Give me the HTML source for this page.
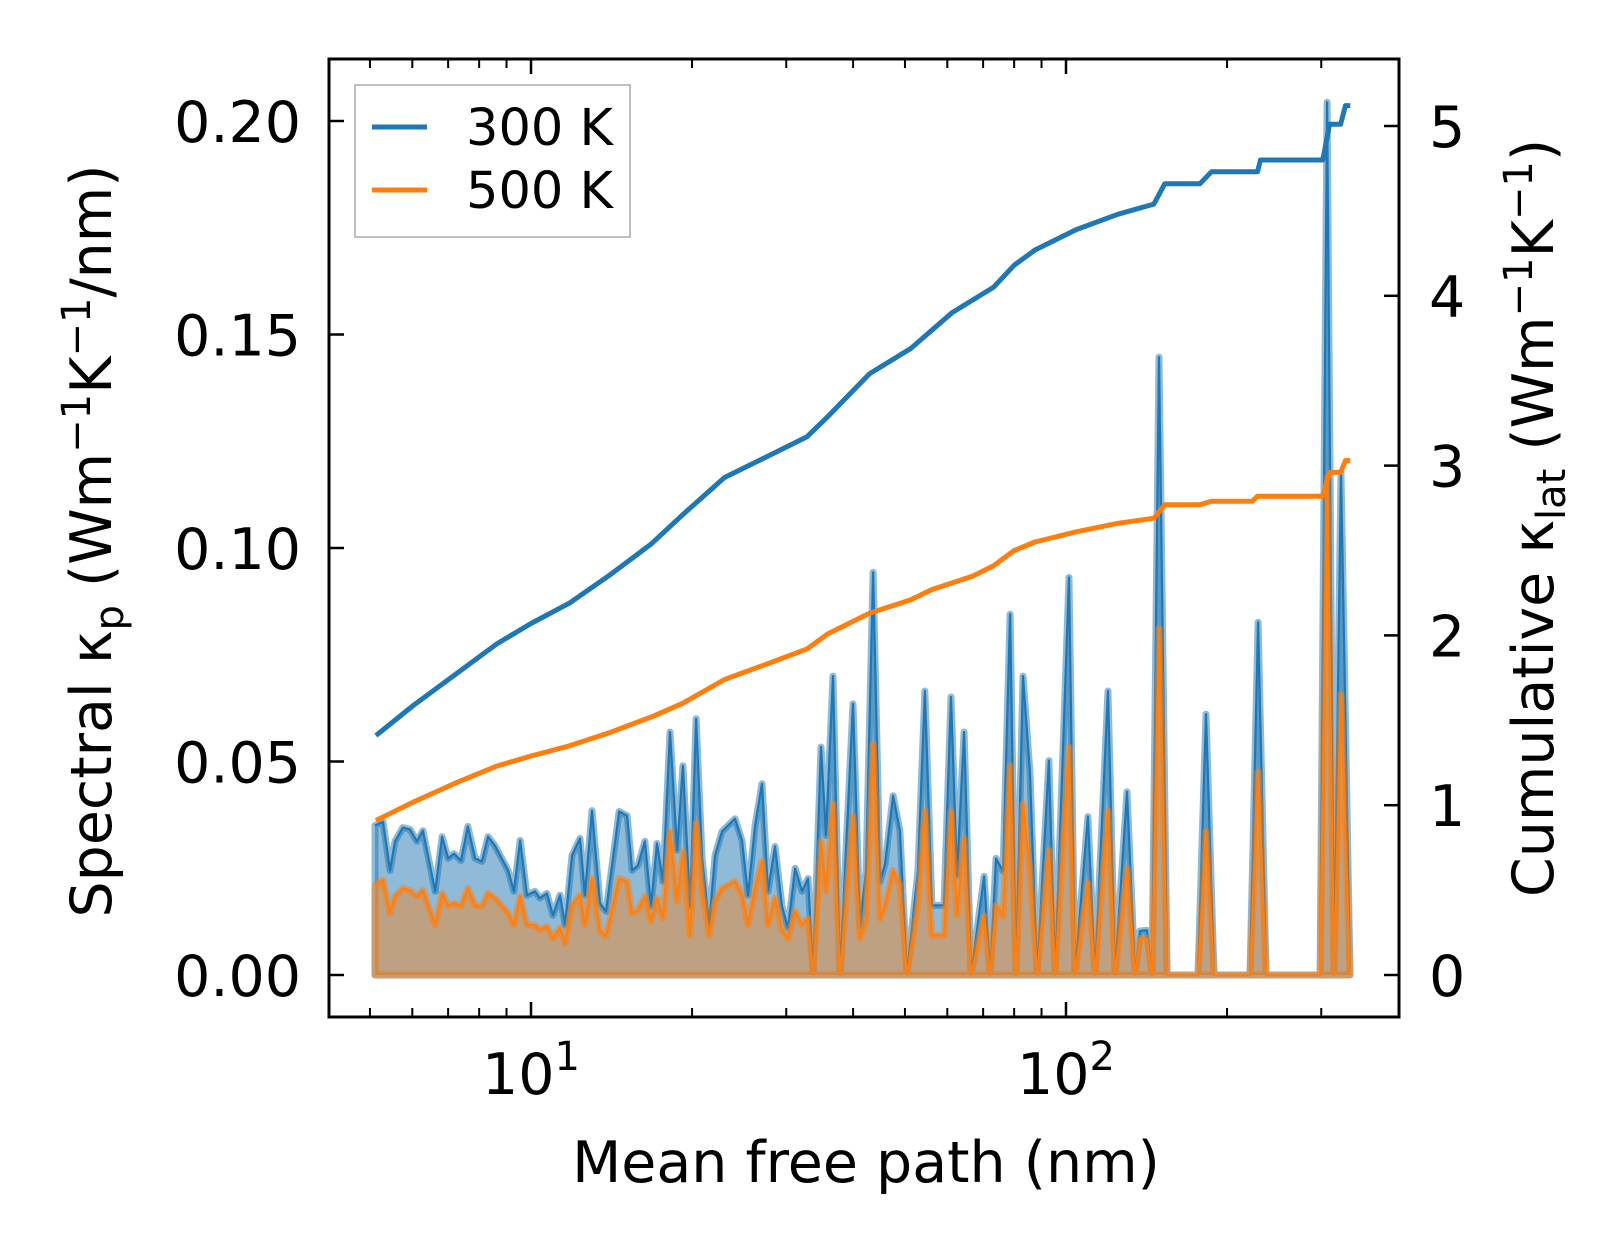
<!DOCTYPE html>
<html><head><meta charset="utf-8"><style>
html,body{margin:0;padding:0;background:#fff;}
svg{display:block;font-family:"DejaVu Sans","Liberation Sans",sans-serif;}
</style></head><body>
<svg id="chart" width="1623" height="1254" viewBox="0 0 1623 1254" xmlns="http://www.w3.org/2000/svg">
<rect x="0" y="0" width="1623" height="1254" fill="#fff"/>
<g id="series"></g>
<g id="axes"></g>
<text x="866" y="1182" font-size="57" text-anchor="middle">Mean free path (nm)</text>
<text transform="translate(111,541) rotate(-90)" font-size="57" text-anchor="middle">Spectral κ<tspan font-size="40" dy="12">p</tspan><tspan dy="-12"> (Wm</tspan><tspan font-size="40" dy="-21">−1</tspan><tspan dy="21">K</tspan><tspan font-size="40" dy="-21">−1</tspan><tspan dy="21">/nm)</tspan></text>
<text transform="translate(1553,518) rotate(-90)" font-size="57" text-anchor="middle">Cumulative κ<tspan font-size="40" dy="12">lat</tspan><tspan dy="-12"> (Wm</tspan><tspan font-size="40" dy="-21">−1</tspan><tspan dy="21">K</tspan><tspan font-size="40" dy="-21">−1</tspan><tspan dy="21">)</tspan></text>
<g>
<rect x="355" y="85" width="275" height="152" fill="#fff" stroke="#aaa" stroke-width="1.5"/>
<line x1="372" y1="127" x2="427" y2="127" stroke="#1f77b4" stroke-width="5"/>
<text x="466" y="145" font-size="51">300 K</text>
<line x1="372" y1="190" x2="427" y2="190" stroke="#ff7f0e" stroke-width="5"/>
<text x="466" y="208" font-size="51">500 K</text>
</g>
</svg>
<script>
// ---- data ----
const mfp = [5.11,5.29,5.45,5.57,5.76,5.94,6.12,6.28,6.62,6.82,7.00,7.18,7.40,7.62,7.86,8.10,8.31,8.56,9.06,9.29,9.54,9.83,10.17,10.39,10.71,10.99,11.33,11.58,11.93,12.35,12.61,13.00,13.46,13.81,14.61,15.12,15.45,15.85,16.33,16.76,17.20,17.65,18.19,18.75,19.23,19.83,20.35,20.88,21.52,22.08,22.75,24.06,24.80,25.44,26.23,27.03,27.73,28.58,29.46,30.23,31.16,32.11,32.95,33.67,34.84,35.60,36.69,37.81,39.99,41.21,42.29,43.60,44.93,45.91,47.52,48.93,50.43,52.87,54.49,56.16,59.16,60.95,62.55,64.50,66.48,70.30,72.12,74.0,76.25,78.6,80.6,83.1,85.6,88.3,92.9,95.4,101.3,103.9,109.9,113.3,119.8,123.5,130.0,134.6,137.5,141.7,144.8,149.2,154.5,176.5,182.7,189.1,220.8,228.6,236.6,298.5,307.6,316.9,326.6,339.5];
const spec300 = [0.0350,0.0359,0.0245,0.0313,0.0345,0.0341,0.0313,0.0338,0.0196,0.0324,0.0273,0.0284,0.0268,0.0348,0.0273,0.0266,0.0324,0.0303,0.0245,0.0196,0.0315,0.0187,0.0196,0.0180,0.0191,0.0140,0.0187,0.0117,0.0280,0.0320,0.0187,0.0385,0.0168,0.0149,0.0383,0.0373,0.0245,0.0257,0.0313,0.0161,0.0308,0.0219,0.0569,0.0292,0.0490,0.0161,0.0600,0.0273,0.0117,0.0280,0.0336,0.0366,0.0315,0.0187,0.0350,0.0448,0.0196,0.0301,0.0161,0.0110,0.0250,0.0196,0.0226,0,
0.0534,0.0327,0.0700,0,0.0635,0.0114,0.0243,0.0943,0.0219,0.0261,0.0420,0.0338,0,0.0243,0.0665,0.0163,0.0163,0.0651,0.0233,0.0569,0,0.0231,0,0.0273,0.0243,0.0845,0,0.0700,0.0476,0,0.0502,0,0.0931,0,0.0371,0,0.0665,0,0.0429,0,0.0103,0.0105,0,0.1447,0,0,0.0611,0,0,0.0826,0,0,0.2044,0,0.1176,0];
const spec500 = [0.0210,0.0222,0.0145,0.0184,0.0203,0.0198,0.0184,0.0198,0.0117,0.0191,0.0163,0.0168,0.0161,0.0203,0.0163,0.0161,0.0191,0.0180,0.0145,0.0117,0.0184,0.0117,0.0117,0.0105,0.0114,0.0086,0.0110,0.0075,0.0163,0.0187,0.0117,0.0226,0.0103,0.0091,0.0226,0.0219,0.0145,0.0152,0.0184,0.0126,0.0180,0.0133,0.0336,0.0173,0.0289,0.0093,0.0355,0.0196,0.0093,0.0173,0.0203,0.0219,0.0187,0.0117,0.0203,0.0266,0.0117,0.0180,0.0105,0.0086,0.0149,0.0117,0.0133,0,
0.0313,0.0196,0.0401,0,0.0371,0.0086,0.0126,0.0541,0.0133,0.0163,0.0245,0.0210,0,0.0163,0.0385,0.0093,0.0093,0.0383,0.0140,0.0320,0,0.0138,0,0.0163,0.0138,0.0490,0,0.0401,0.0243,0,0.0292,0,0.0534,0,0.0215,0,0.0385,0,0.0250,0,0.0086,0.0086,0,0.0812,0,0,0.0336,0,0,0.0476,0,0,0.1165,0,0.0658,0];
const cumMfp300 = [5.13,6.04,7.22,8.63,10,11.8,14.1,16.8,19.2,23.0,27.5,32.8,35.9,42.9,51.3,61.2,73.2,80.0,87.5,104.5,125,146,153,178,187,228,231,302,311,326,333,340];
const cum300 = [1.41,1.59,1.77,1.95,2.07,2.19,2.36,2.54,2.71,2.93,3.05,3.17,3.29,3.54,3.69,3.90,4.05,4.18,4.27,4.39,4.48,4.54,4.66,4.66,4.73,4.73,4.80,4.80,5.01,5.01,5.12,5.12];
const cumMfp500 = [5.13,6.04,7.22,8.63,10,11.8,14.1,16.8,19.2,23.0,27.5,32.8,35.9,42.9,51.3,56.1,67.0,73.2,80.0,87.5,104.5,125,146,153,178,187,223,228,302,311,326,333,340];
const cum500 = [0.91,1.02,1.13,1.23,1.29,1.35,1.43,1.52,1.60,1.74,1.83,1.92,2.01,2.13,2.21,2.27,2.35,2.41,2.50,2.55,2.61,2.66,2.69,2.77,2.77,2.79,2.79,2.82,2.82,2.96,2.96,3.03,3.03];
const leftTicks = [0, 0.05, 0.10, 0.15, 0.20];
const leftTickLabels = ["0.00","0.05","0.10","0.15","0.20"];
const rightTicks = [0,1,2,3,4,5];
const rightTickLabels = ["0","1","2","3","4","5"];
const xMajor = [10, 100];
const xMajorExp = ["1","2"];
const xMinor = [5,6,7,8,9,20,30,40,50,60,70,80,90,200,300];

// ---- layout ----
const L=329, R=1399, T=59, B=1017;
const X0=531, DEC=535;
function xs(v){return X0 + (Math.log10(v)-1)*DEC;}
function yl(v){return 975 - v*(975-121)/0.20;}
function yr(v){return 975 - v*(975-126)/5;}
const NS="http://www.w3.org/2000/svg";
function mk(tag, attrs, parent){const e=document.createElementNS(NS,tag);for(const k in attrs)e.setAttribute(k,attrs[k]);parent.appendChild(e);return e;}
const series=document.getElementById('series');
const axes=document.getElementById('axes');

function spectral(vals, color, fill, name){
  const g=mk('g',{},series);
  
  
  let pts=mfp.map((m,i)=>xs(m).toFixed(1)+','+yl(vals[i]).toFixed(1));
  const poly=[xs(mfp[0]).toFixed(1)+','+yl(0).toFixed(1)].concat(pts,[xs(mfp[mfp.length-1]).toFixed(1)+','+yl(0).toFixed(1)]).join(' ');
  const p=mk('polygon',{points:poly,fill:fill,stroke:color,'stroke-opacity':0.5,'stroke-width':7,'stroke-linejoin':'round'},g);
  
  
  const l=mk('polyline',{points:pts.join(' '),fill:'none',stroke:color,'stroke-width':2.2,'stroke-linejoin':'round'},g);
  
  
}
spectral(spec300,'#1f77b4','rgba(31,119,180,0.5)','spectral-300k');
spectral(spec500,'#ff7f0e','rgba(230,140,60,0.55)','spectral-500k');

function cum(xv, vals, color, name){
  const pts=xv.map((m,i)=>xs(m).toFixed(1)+','+yr(vals[i]).toFixed(1)).join(' ');
  const l=mk('polyline',{points:pts,fill:'none',stroke:color,'stroke-width':5,'stroke-linejoin':'round'},series);
  
  
}
cum(cumMfp300,cum300,'#1f77b4','cumulative-300k-line');
cum(cumMfp500,cum500,'#ff7f0e','cumulative-500k-line');

// frame
const fr=mk('rect',{x:L,y:T,width:R-L,height:B-T,fill:'none',stroke:'#000','stroke-width':3},axes);


leftTicks.forEach((v,i)=>{
  const y=yl(v);
  const t=mk('line',{x1:L,y1:y,x2:L+15,y2:y,stroke:'#000','stroke-width':2.5},axes);
  
  
  const tx=mk('text',{x:L-28,y:y+21,'font-size':57,'text-anchor':'end'},axes);
  tx.textContent=leftTickLabels[i];
  
  
});
rightTicks.forEach((v,i)=>{
  const y=yr(v);
  const t=mk('line',{x1:R-15,y1:y,x2:R,y2:y,stroke:'#000','stroke-width':2.5},axes);
  
  
  const tx=mk('text',{x:R+30,y:y+21,'font-size':57,'text-anchor':'start'},axes);
  tx.textContent=rightTickLabels[i];
  
  
});
xMajor.forEach((v,i)=>{
  const x=xs(v);
  [[B,B-15],[T,T+15]].forEach(([a,b])=>{
    const t=mk('line',{x1:x,y1:a,x2:x,y2:b,stroke:'#000','stroke-width':2.5},axes);
    
    
  });
  const tx=mk('text',{x:x,y:1094,'font-size':57,'text-anchor':'middle'},axes);
  
  
  tx.textContent='10';
  const sup=mk('tspan',{'font-size':40,dy:-24},tx);
  sup.textContent=xMajorExp[i];
});
xMinor.forEach(v=>{
  const x=xs(v);
  [[B,B-9],[T,T+9]].forEach(([a,b])=>{
    const t=mk('line',{x1:x,y1:a,x2:x,y2:b,stroke:'#000','stroke-width':2},axes);
    
    
  });
});
</script>
</body></html>
